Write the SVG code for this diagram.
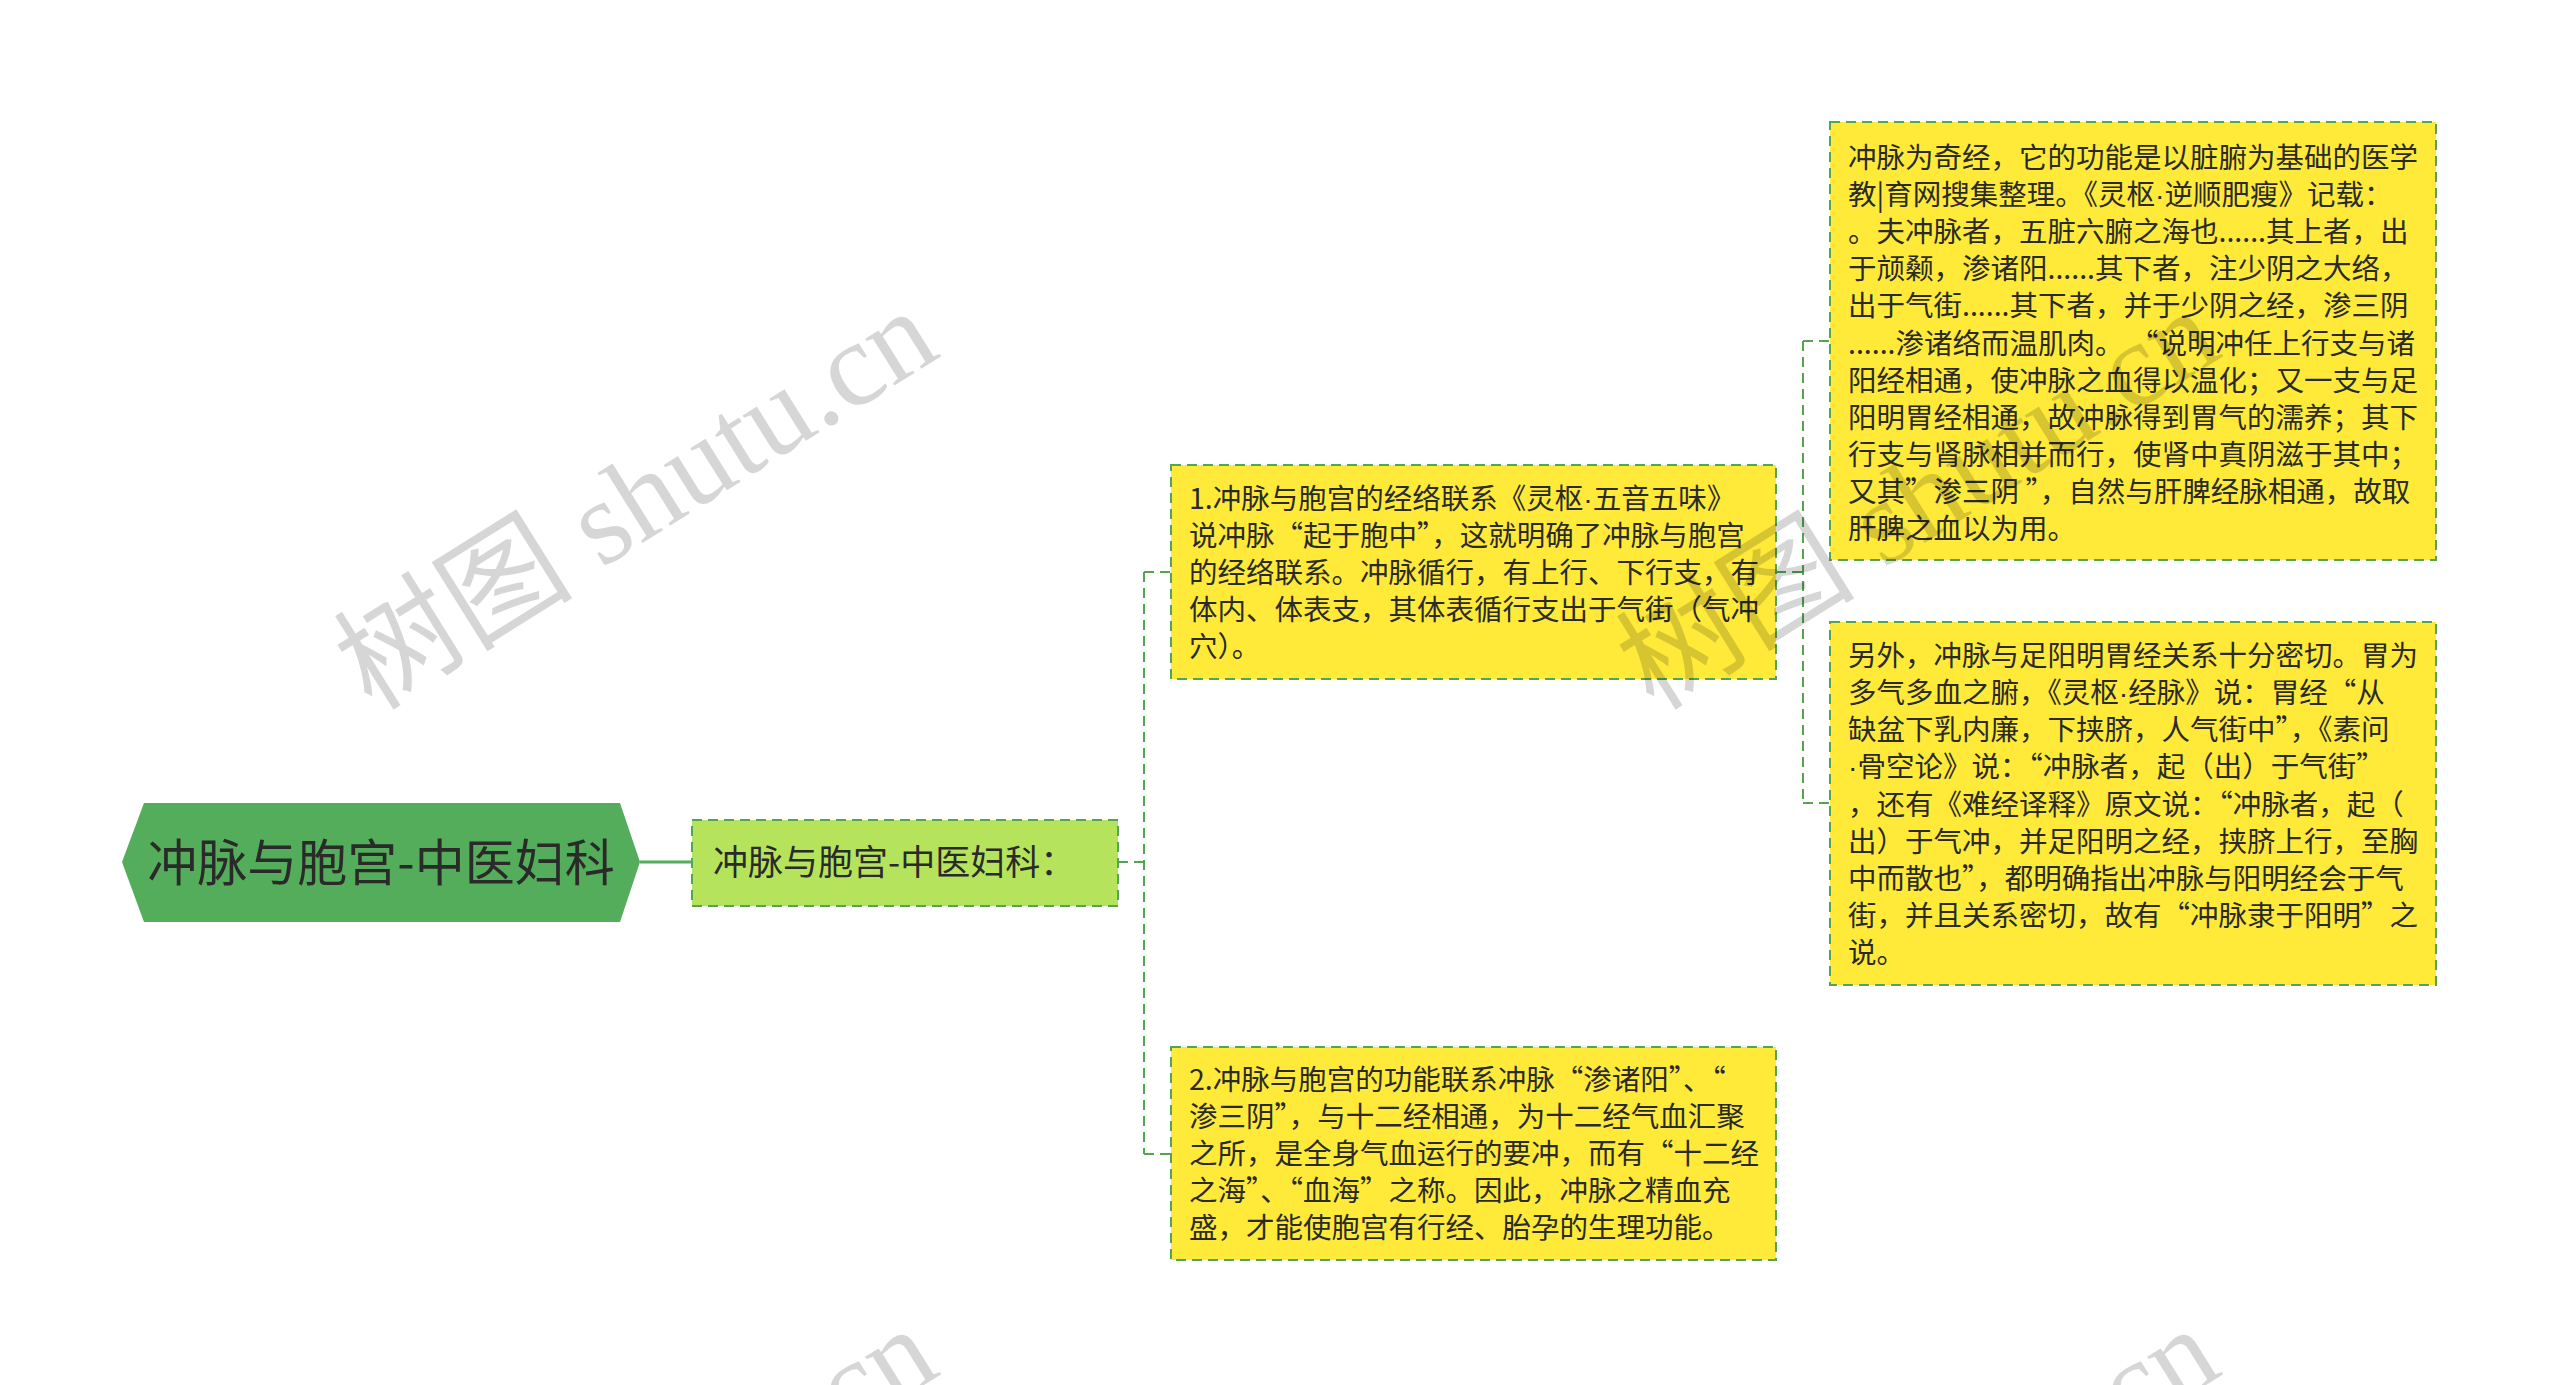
<svg xmlns="http://www.w3.org/2000/svg" width="2560" height="1385" viewBox="0 0 2560 1385">
<style>
.bg{fill:#ffffff}
.txt{font-family:"Noto Sans CJK SC","Microsoft YaHei",sans-serif;fill:#2a2a2a}
.leaf{fill:#FFEA3A;stroke:#52A652;stroke-width:2;stroke-dasharray:10 6}
.l1{fill:#B5E45C;stroke:#52A652;stroke-width:2;stroke-dasharray:10 6}
.root{fill:#53AD5A}
.conn{fill:none;stroke:#52A652;stroke-width:2;stroke-dasharray:10 6}
.solid{fill:none;stroke:#53AD5A;stroke-width:3}
.lt{font-size:28.5px}
.dot{font-family:"Liberation Sans",sans-serif}
.wm{font-family:"Liberation Serif","Noto Sans CJK SC",serif;font-size:120px;fill:#000000;fill-opacity:0.16}
</style>
<rect class="bg" x="0" y="0" width="2560" height="1385"/>
<g id="connectors">
<path class="solid" d="M640,862 H692"/>
<path class="conn" d="M1118,862 H1144"/>
<path class="conn" d="M1144,572 V1154"/>
<path class="conn" d="M1144,572 H1171"/>
<path class="conn" d="M1144,1154 H1171"/>
<path class="conn" d="M1776,572 H1803"/>
<path class="conn" d="M1803,341 V803"/>
<path class="conn" d="M1803,341 H1830"/>
<path class="conn" d="M1803,803 H1830"/>
</g>
<g id="root">
<polygon class="root" points="122,862 144,803 620,803 640,862 620,922 144,922"/>
<text class="txt" x="381" y="881" font-size="50" text-anchor="middle">冲脉与胞宫-中医妇科</text>
</g>
<g id="level1">
<rect class="l1" x="692" y="820" width="426" height="86"/>
<text class="txt" x="713" y="875" font-size="35">冲脉与胞宫-中医妇科：</text>
</g>
<g id="nodeA">
<rect class="leaf" x="1171" y="465" width="605" height="214"/>
<text class="txt lt" x="1189" y="509">
<tspan x="1189" y="509">1.冲脉与胞宫的经络联系《灵枢<tspan class="dot">·</tspan>五音五味》</tspan>
<tspan x="1189" dy="37.1">说冲脉“起于胞中”，这就明确了冲脉与胞宫</tspan>
<tspan x="1189" dy="37.1">的经络联系。冲脉循行，有上行、下行支，有</tspan>
<tspan x="1189" dy="37.1">体内、体表支，其体表循行支出于气街（气冲</tspan>
<tspan x="1189" dy="37.1">穴）。</tspan>
</text>
</g>
<g id="nodeB">
<rect class="leaf" x="1171" y="1047" width="605" height="213"/>
<text class="txt lt" x="1189" y="1090">
<tspan x="1189" y="1090">2.冲脉与胞宫的功能联系冲脉“渗诸阳”、“</tspan>
<tspan x="1189" dy="37.1">渗三阴”，与十二经相通，为十二经气血汇聚</tspan>
<tspan x="1189" dy="37.1">之所，是全身气血运行的要冲，而有“十二经</tspan>
<tspan x="1189" dy="37.1">之海”、“血海”之称。因此，冲脉之精血充</tspan>
<tspan x="1189" dy="37.1">盛，才能使胞宫有行经、胎孕的生理功能。</tspan>
</text>
</g>
<g id="nodeC">
<rect class="leaf" x="1830" y="122" width="606" height="438"/>
<text class="txt lt" x="1848" y="168">
<tspan x="1848" y="168">冲脉为奇经，它的功能是以脏腑为基础的医学</tspan>
<tspan x="1848" dy="37.1">教|育网搜集整理。《灵枢<tspan class="dot">·</tspan>逆顺肥瘦》记载：</tspan>
<tspan x="1848" dy="37.1">。夫冲脉者，五脏六腑之海也......其上者，出</tspan>
<tspan x="1848" dy="37.1">于颃颡，渗诸阳......其下者，注少阴之大络，</tspan>
<tspan x="1848" dy="37.1">出于气街......其下者，并于少阴之经，渗三阴</tspan>
<tspan x="1848" dy="37.1">......渗诸络而温肌肉。 “说明冲任上行支与诸</tspan>
<tspan x="1848" dy="37.1">阳经相通，使冲脉之血得以温化；又一支与足</tspan>
<tspan x="1848" dy="37.1">阳明胃经相通，故冲脉得到胃气的濡养；其下</tspan>
<tspan x="1848" dy="37.1">行支与肾脉相并而行，使肾中真阴滋于其中；</tspan>
<tspan x="1848" dy="37.1">又其”渗三阴 ”，自然与肝脾经脉相通，故取</tspan>
<tspan x="1848" dy="37.1">肝脾之血以为用。</tspan>
</text>
</g>
<g id="nodeD">
<rect class="leaf" x="1830" y="622" width="606" height="363"/>
<text class="txt lt" x="1848" y="666">
<tspan x="1848" y="666">另外，冲脉与足阳明胃经关系十分密切。胃为</tspan>
<tspan x="1848" dy="37.15">多气多血之腑，《灵枢<tspan class="dot">·</tspan>经脉》说：胃经“从</tspan>
<tspan x="1848" dy="37.15">缺盆下乳内廉，下挟脐，人气街中”，《素问</tspan>
<tspan x="1848" dy="37.15"><tspan class="dot">·</tspan>骨空论》说：“冲脉者，起（出）于气街”</tspan>
<tspan x="1848" dy="37.15">，还有《难经译释》原文说：“冲脉者，起（</tspan>
<tspan x="1848" dy="37.15">出）于气冲，并足阳明之经，挟脐上行，至胸</tspan>
<tspan x="1848" dy="37.15">中而散也”，都明确指出冲脉与阳明经会于气</tspan>
<tspan x="1848" dy="37.15">街，并且关系密切，故有“冲脉隶于阳明”之</tspan>
<tspan x="1848" dy="37.15">说。</tspan>
</text>
</g>
<g id="watermark">
<text class="wm" transform="translate(372,712) rotate(-32)">树图 shutu.cn</text>
<text class="wm" transform="translate(1654,712) rotate(-32)">树图 shutu.cn</text>
<text class="wm" transform="translate(372,1730) rotate(-32)">树图 shutu.cn</text>
<text class="wm" transform="translate(1654,1730) rotate(-32)">树图 shutu.cn</text>
</g>
</svg>
